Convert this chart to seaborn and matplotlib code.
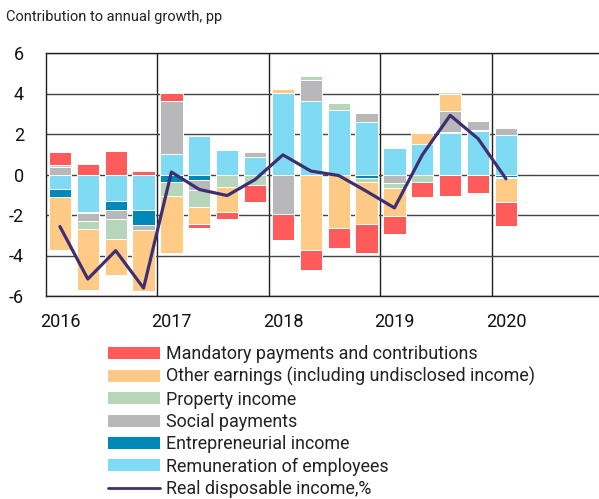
import matplotlib
matplotlib.use('Agg')

import numpy as np
import pandas as pd
import seaborn as sns
import matplotlib.pyplot as plt
from matplotlib.patches import Patch
from matplotlib.lines import Line2D

sns.set_theme(style="white")
plt.rcParams['font.family'] = ['Roboto', 'DejaVu Sans']

# quarters 2016Q1 .. 2020Q1
quarters = ['2016Q1', '2016Q2', '2016Q3', '2016Q4',
            '2017Q1', '2017Q2', '2017Q3', '2017Q4',
            '2018Q1', '2018Q2', '2018Q3', '2018Q4',
            '2019Q1', '2019Q2', '2019Q3', '2019Q4',
            '2020Q1']

remuneration = [-0.71, -1.86, -1.29, -1.75,
                1.02, 1.90, 1.19, 0.87,
                4.03, 3.61, 3.20, 2.59,
                1.30, 1.49, 2.06, 2.15,
                1.96]
entrepreneurial = [-0.38, -0.05, -0.45, -0.73,
                   -0.38, -0.26, 0.0, 0.0,
                   0.0, 0.0, -0.04, -0.15,
                   0.03, 0.0, 0.03, 0.03,
                   -0.10]
social = [0.36, -0.41, -0.48, -0.25,
          2.59, -0.50, 0.0, 0.23,
          -1.96, 1.04, 0.0, 0.45,
          -0.41, 0.0, 1.04, 0.45,
          0.36]
property_inc = [0.13, -0.36, -0.97, 0.0,
                -0.66, -0.83, -0.63, -0.50,
                0.0, 0.23, 0.33, -0.21,
                -0.26, -0.38, 0.03, 0.0,
                -0.05]
other = [-2.64, -3.00, -1.77, -3.02,
         -2.84, -0.83, -1.24, 0.0,
         0.17, -3.71, -2.61, -2.08,
         -1.40, 0.54, 0.83, 0.05,
         -1.19]
mandatory = [0.64, 0.53, 1.14, 0.15,
             0.41, -0.23, -0.35, -0.84,
             -1.25, -1.01, -0.99, -1.45,
             -0.89, -0.71, -1.07, -0.90,
             -1.19]
real_income = [-2.57, -5.16, -3.76, -5.61,
               0.12, -0.74, -1.04, -0.25,
               0.97, 0.17, -0.05, -0.83,
               -1.65, 0.97, 2.92, 1.77,
               -0.21]

years = [2016, 2017, 2018, 2019, 2020]

labels = {
    'mandatory': 'Mandatory payments and contributions',
    'other': 'Other earnings (including undisclosed income)',
    'property': 'Property income',
    'social': 'Social payments',
    'entrepreneurial': 'Entrepreneurial income',
    'remuneration': 'Remuneration of employees',
}
colors = {
    'mandatory': '#ff5b5b',
    'other': '#ffc986',
    'property': '#b6d5b9',
    'social': '#b8b8bb',
    'entrepreneurial': '#0088b9',
    'remuneration': '#7fdbf4',
}
line_color = '#3d2f72'

# stacking order from zero outwards
stack = [('remuneration', remuneration), ('entrepreneurial', entrepreneurial),
         ('social', social), ('property', property_inc),
         ('other', other), ('mandatory', mandatory)]

x = np.array([int(q[:4]) + (int(q[-1]) - 1) * 0.25 + 0.125 for q in quarters])

fig = plt.figure(figsize=(5.99, 4.99), dpi=100)
ax = fig.add_axes([46 / 599, 1 - 296 / 499, 557.5 / 599, 243 / 499])

pos_bottom = np.zeros(len(x))
neg_bottom = np.zeros(len(x))
for key, vals in stack:
    v = np.array(vals)
    bottom = np.where(v >= 0, pos_bottom, neg_bottom)
    ax.bar(x, v, bottom=bottom, width=0.2, color=colors[key],
           edgecolor='white', linewidth=0.7, zorder=2)
    pos_bottom += np.where(v >= 0, v, 0)
    neg_bottom += np.where(v < 0, v, 0)

df = pd.DataFrame({'x': x, 'income': real_income})
sns.lineplot(data=df, x='x', y='income', ax=ax, color=line_color,
             linewidth=2.3, zorder=3)

ax.set_xlim(2016, 2021)
ax.set_ylim(-6, 6)
ax.set_yticks(range(-6, 7, 2))
ax.set_yticklabels([str(t) for t in range(-6, 7, 2)])
ax.set_xticks([y + 0.125 for y in years])
ax.set_xticklabels([str(y) for y in years])
ax.set_xticks(years[1:], minor=True)
ax.grid(axis='y', which='major', color='#444444', linewidth=1.0, zorder=0)
ax.grid(axis='x', which='minor', color='#222222', linewidth=1.0, zorder=0)
ax.grid(axis='x', which='major', visible=False)
ax.tick_params(axis='both', which='both', length=0, labelsize=13,
               colors='#111111')
ax.tick_params(axis='y', pad=16)
ax.tick_params(axis='x', pad=12)
ax.set_xlabel('')
ax.set_ylabel('')
for s in ax.spines.values():
    s.set_color('#222222')
    s.set_linewidth(1.0)

fig.text(6 / 599, 1 - 17 / 499, 'Contribution to annual growth, pp',
         fontsize=10.5, color='#222222', va='center', ha='left')

order = ['mandatory', 'other', 'property', 'social', 'entrepreneurial', 'remuneration']
handles = [Patch(facecolor=colors[k], edgecolor='none') for k in order]
handles.append(Line2D([0], [0], color=line_color, linewidth=2))
names = [labels[k] for k in order] + ['Real disposable income,%']
fig.legend(handles, names, loc='upper left',
           bbox_to_anchor=(108 / 599, 1 - 345 / 499), frameon=False,
           fontsize=12.9, handlelength=2.9, handleheight=0.65,
           handletextpad=0.35, labelspacing=0.24, borderpad=0,
           borderaxespad=0, labelcolor='#222222')

fig.savefig('out.png', dpi=100)
